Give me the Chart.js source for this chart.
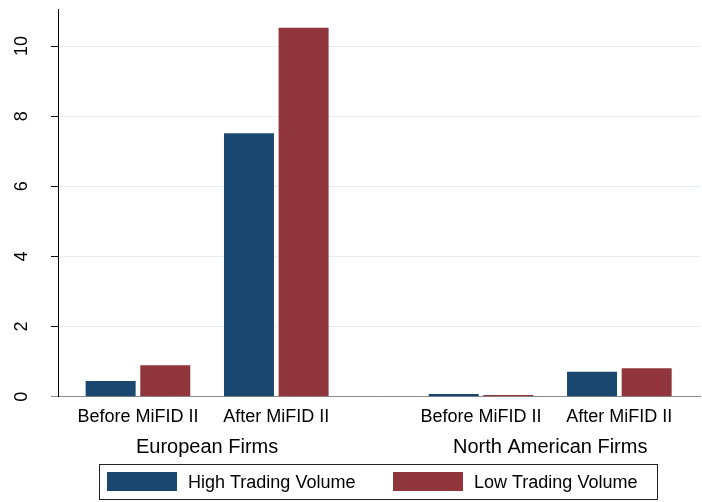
<!DOCTYPE html>
<html>
<head>
<meta charset="utf-8">
<script src="https://cdn.jsdelivr.net/npm/chart.js@4.4.1/dist/chart.umd.min.js"></script>
<style>
  html, body { margin: 0; padding: 0; background: #fff; }
</style>
</head>
<body>
<canvas id="grafico" width="702" height="502"></canvas>
<script>
const groups = ['European Firms', 'North American Firms'];
const periods = ['Before MiFID II', 'After MiFID II'];
const seriesNames = ['High Trading Volume', 'Low Trading Volume'];
const highVolume = [0.45, 7.51, 0.08, 0.71];
const lowVolume = [0.90, 10.52, 0.05, 0.81];
const yTicks = [0, 2, 4, 6, 8, 10];

// spacing between the two firm groups, in period units
const groupStep = 2.48;
const font = '"Liberation Sans", Arial, sans-serif';

const slots = [];
groups.forEach((g, gi) => {
  periods.forEach((p, pi) => slots.push(gi * groupStep + pi));
});
const groupCenters = groups.map((g, gi) => gi * groupStep + (periods.length - 1) / 2);

function points(values) {
  return values.map((v, i) => ({ x: slots[i], y: v }));
}

function noPadding(scale) {
  scale.paddingTop = 0;
  scale.paddingBottom = 0;
  scale.paddingLeft = 0;
  scale.paddingRight = 0;
}

// legend with a frame, like Stata draws it
const legendBox = {
  id: 'legendBox',
  afterDraw(chart) {
    const ctx = chart.ctx;
    const startX = [107, 393];
    ctx.save();
    ctx.strokeStyle = '#222';
    ctx.lineWidth = 1;
    ctx.strokeRect(99.5, 464.5, 558, 35);
    ctx.font = '18px ' + font;
    ctx.textBaseline = 'alphabetic';
    chart.data.datasets.forEach((ds, i) => {
      ctx.fillStyle = ds.backgroundColor;
      ctx.fillRect(startX[i], 472, 70, 19);
      ctx.fillStyle = '#000';
      ctx.fillText(ds.label, startX[i] + 81, 488);
    });
    ctx.restore();
  }
};

new Chart(document.getElementById('grafico'), {
  type: 'bar',
  data: {
    datasets: [{
      label: seriesNames[0],
      data: points(highVolume),
      backgroundColor: '#1a476f',
      borderWidth: 0,
      barPercentage: 0.915,
      categoryPercentage: 0.79
    }, {
      label: seriesNames[1],
      data: points(lowVolume),
      backgroundColor: '#90353b',
      borderWidth: 0,
      barPercentage: 0.915,
      categoryPercentage: 0.79
    }]
  },
  options: {
    responsive: false,
    animation: false,
    events: [],
    layout: { padding: { top: 9.2, right: 2, bottom: 44.7, left: 0 } },
    plugins: {
      legend: { display: false },
      tooltip: { enabled: false }
    },
    scales: {
      x: {
        type: 'linear',
        min: -0.578,
        max: 4.063,
        offset: false,
        weight: 0,
        grid: { display: false, drawTicks: false },
        border: { color: '#8c8c8c', width: 1 },
        afterBuildTicks: scale => { scale.ticks = slots.map(v => ({ value: v })); },
        afterFit: scale => { scale.height = 28.6; noPadding(scale); },
        ticks: {
          autoSkip: false,
          maxRotation: 0,
          padding: 10,
          color: '#000',
          font: { family: font, size: 18 },
          callback: (value, index) => periods[index % periods.length]
        }
      },
      x2: {
        type: 'linear',
        position: 'bottom',
        min: -0.578,
        max: 4.063,
        offset: false,
        weight: 1,
        grid: { display: false, drawTicks: false },
        border: { display: false },
        afterBuildTicks: scale => { scale.ticks = groupCenters.map(v => ({ value: v })); },
        afterFit: scale => { scale.height = 32; noPadding(scale); },
        ticks: {
          autoSkip: false,
          maxRotation: 0,
          padding: 10,
          color: '#000',
          font: { family: font, size: 20 },
          callback: (value, index) => groups[index]
        }
      },
      y: {
        min: 0,
        max: 11.05,
        afterFit: scale => { scale.width = 58; noPadding(scale); },
        afterBuildTicks: scale => { scale.ticks = yTicks.map(v => ({ value: v })); },
        grid: {
          color: ctx => ctx.tick && ctx.tick.value === 0 ? 'rgba(0,0,0,0)' : '#e6eef1',
          tickColor: ctx => ctx.tick && ctx.tick.value === 0 ? '#8c8c8c' : '#000',
          tickLength: 7
        },
        border: { color: '#000', width: 1 },
        ticks: {
          minRotation: 90,
          maxRotation: 90,
          crossAlign: 'center',
          padding: 19,
          color: '#000',
          font: { family: font, size: 18 }
        }
      }
    }
  },
  plugins: [legendBox]
});
</script>
</body>
</html>
